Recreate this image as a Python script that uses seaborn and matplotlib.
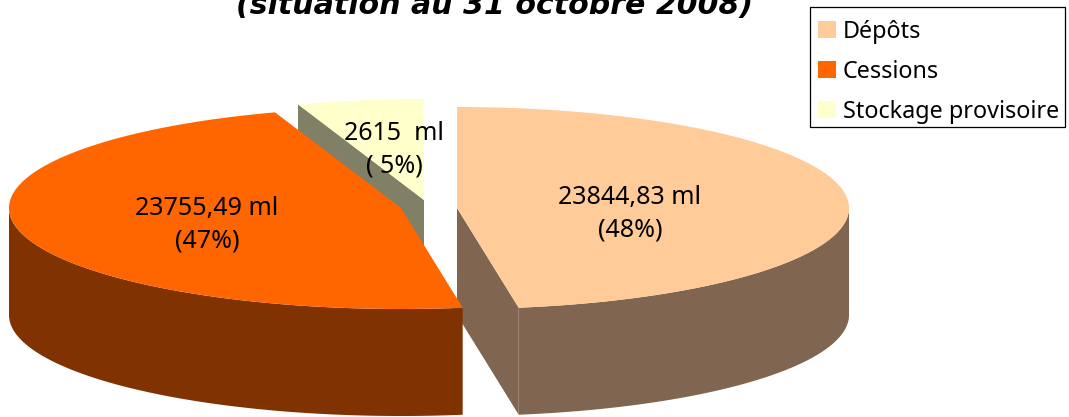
import numpy as np
import matplotlib
matplotlib.use("Agg")
import matplotlib.pyplot as plt
from matplotlib.patches import Patch, Rectangle
import seaborn as sns

sns.set_theme(style="white")
plt.rcParams['font.family'] = ['Noto Sans', 'DejaVu Sans']

categories = ["Dépôts", "Cessions", "Stockage provisoire"]
values = [23844.83, 23755.49, 2615]
slice_labels = ["23844,83 ml\n(48%)", "23755,49 ml\n(47%)", "2615  ml\n( 5%)"]
title_text = "(situation au 31 octobre 2008)"

top_colors = sns.color_palette(["#FFCC99", "#FF6600", "#FFFFCC"])
side_colors = sns.color_palette(["#806650", "#803300", "#808066"])

# pie geometry, in pixels of the picture
centers = [(457, 208), (401, 208), (424, 200)]
rx, ry = 392, 101
depth = 107
label_pos = [(630, 214), (207, 225), (394, 150)]

fig, ax = plt.subplots(figsize=(10.69, 4.17), dpi=100)
fig.subplots_adjust(0, 0, 1, 1)
ax.set_xlim(0, 1069)
ax.set_ylim(417, 0)
ax.axis("off")

# slice angles, clockwise from the top
shares = np.array(values) / sum(values)
ends = 90 - np.cumsum(shares) * 360
starts = np.r_[90, ends[:-1]]


def rim(cx, cy, a0, a1):
    t = np.radians(np.linspace(a0, a1, 200))
    return cx + rx * np.cos(t), cy - ry * np.sin(t)


# back to front: stockage, depots, cessions
for i in [2, 0, 1]:
    cx, cy = centers[i]
    a0, a1 = starts[i], ends[i]

    # outer wall, only the front half of the rim shows
    lo = max(a1, -180)
    hi = min(a0, 0)
    if i == 1:
        lo, hi = -180, a0
    if hi > lo:
        x, y = rim(cx, cy, lo, hi)
        ax.fill(np.r_[x, x[::-1]], np.r_[y, y[::-1] + depth],
                color=side_colors[i], lw=0)

    # cut faces looking at the viewer
    if i == 0:
        x, y = rim(cx, cy, a1, a1)
        ax.fill([cx, x[0], x[0], cx], [cy, y[0], y[0] + depth, cy + depth],
                color=side_colors[i], lw=0)
    if i == 2:
        x, y = rim(cx, cy, a0, a0)
        ax.fill([x[0], cx, cx, x[0]], [y[0], cy, cy + depth, y[0] + depth],
                color=side_colors[i], lw=0)

    # top of the slice
    x, y = rim(cx, cy, a1, a0)
    ax.fill(np.r_[cx, x], np.r_[cy, y], color=top_colors[i], lw=0)

for (lx, ly), txt in zip(label_pos, slice_labels):
    ax.text(lx, ly, txt, ha="center", va="center", fontsize=18, color="black",
            linespacing=1.42)

ax.text(495, 14, title_text, ha="center", va="baseline", fontsize=21.6,
        fontweight="bold", fontstyle="italic", family="DejaVu Sans", color="black")

# legend box drawn apart so its padding can follow the picture
ax.add_patch(Rectangle((810, 7), 255, 119.5, facecolor="white", edgecolor="black", lw=0.9, zorder=4))
handles = [Patch(facecolor=c, edgecolor="none") for c in top_colors]
leg = ax.legend(handles, categories, loc="upper left",
                bbox_to_anchor=(818 / 1069, 1 - 20 / 417), borderaxespad=0,
                fontsize=16.8, frameon=False, handlelength=0.76, handleheight=0.76,
                handletextpad=0.3, labelspacing=0.68, borderpad=0, labelcolor="black")
leg.set_zorder(5)

fig.savefig("out.png", dpi=100)
